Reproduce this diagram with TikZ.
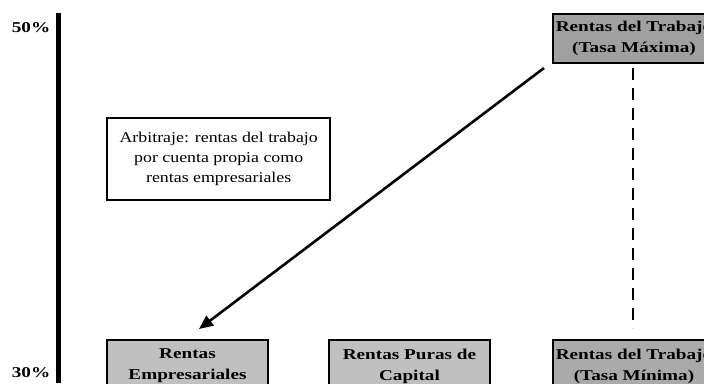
\documentclass[tikz,border=0pt]{standalone}
\usepackage{fontspec}
\setmainfont{Liberation Serif}[FakeStretch=1.28]
\newfontfamily\notefont{Liberation Serif}[FakeStretch=1.19]
\usetikzlibrary{arrows.meta}

\definecolor{boxdark}{RGB}{160,160,160}
\definecolor{boxmid}{RGB}{170,170,170}
\definecolor{boxlight}{RGB}{192,192,192}

\begin{document}
\begin{tikzpicture}[x=1pt, y=-1pt,
    every node/.style={font=\fontsize{14.8}{20}\selectfont, align=center, inner sep=0pt},
    rentbox/.style={draw, line width=2pt, anchor=north west, font=\fontsize{15}{21}\selectfont\bfseries},
    notebox/.style={draw, line width=2.4pt, anchor=north west, fill=white, font=\fontsize{15}{20}\selectfont\notefont},
    pct/.style={font=\fontsize{15}{20}\selectfont\bfseries},
    dashline/.style={line width=2.6pt, dash pattern=on 12pt off 8pt},
    arbarrow/.style={line width=2.6pt, -{Triangle[length=14pt,width=12pt]}}]
    \path[use as bounding box, clip] (0,0) rectangle (704,383);

    % eje de tasas
    \coordinate (axistop) at (58.5,13);
    \coordinate (axisbot) at (58.5,383);
    \draw[line width=5pt] (axistop) -- (axisbot);
    \node[pct] (pcthigh) at (31,28) {50\%};
    \node[pct] (pctlow) at (31,373) {30\%};

    % cajas de rentas
    \node[rentbox, fill=boxdark, minimum width=162pt, minimum height=49pt] (maxbox) at (552,13) {Rentas del Trabajo\\(Tasa Máxima)};
    \node[rentbox, fill=boxlight, minimum width=161pt, minimum height=52pt] (empbox) at (106,339) {Rentas\\Empresariales};
    \node[rentbox, fill=boxlight, minimum width=161pt, minimum height=52pt] (capbox) at (328,339) {Rentas Puras de\\Capital};
    \node[rentbox, fill=boxmid, minimum width=162pt, minimum height=52pt] (minbox) at (552,339) {Rentas del Trabajo\\(Tasa Mínima)};

    \node[notebox, minimum width=223pt, minimum height=82pt] (arbbox) at (106,117) {Arbitraje: rentas del trabajo\\por cuenta propia como\\rentas empresariales};

    % flechas
    \draw[dashline] ([xshift=-1pt,yshift=-4pt]maxbox.south) -- ([xshift=-1pt,yshift=11pt]minbox.north);
    \coordinate (arbfrom) at (544,68);
    \coordinate (arbto) at (199,329);
    \draw[arbarrow] (arbfrom) -- (arbto);
\end{tikzpicture}
\end{document}
